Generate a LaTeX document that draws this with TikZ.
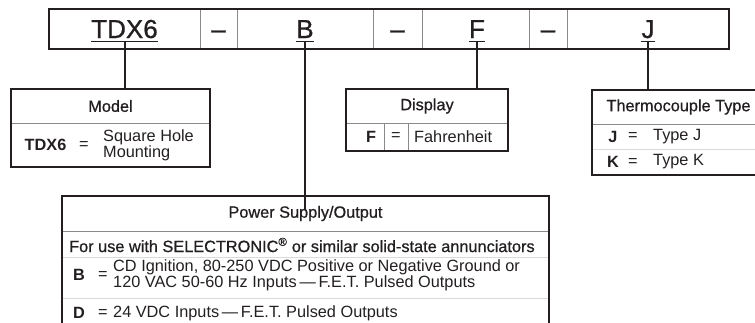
\documentclass[tikz,border=0pt]{standalone}
\usepackage{fontspec}
\setmainfont{Liberation Sans}
\newfontfamily\medfont[FakeBold=0.8]{Liberation Sans}
\usetikzlibrary{positioning,calc}
\definecolor{encre}{HTML}{231F20}
\definecolor{grisT}{HTML}{8A8A8A}
\definecolor{grisP}{HTML}{DADADA}
\tikzset{
  cadre/.style={draw=encre, line width=2pt},
  filet/.style={draw=grisT, line width=0.8pt},
  pale/.style={draw=grisP, line width=0.6pt},
  lien/.style={draw=encre, line width=2pt},
  code/.style={font=\fontsize{26}{26}\selectfont\medfont, text=encre, inner sep=0pt, anchor=base},
  zone/.style={rectangle, inner sep=0pt, font=\fontsize{16.3}{17}\selectfont\medfont, text=encre},
  txt/.style={font=\fontsize{16.3}{14}\selectfont, text=encre, inner sep=0pt, align=left},
  lettre/.style={font=\fontsize{16.3}{17}\selectfont\bfseries, text=encre, inner sep=0pt},
}

\begin{document}
\begin{tikzpicture}[x=1pt,y=-1pt]
  \clip (0,0) rectangle (755,322);
  % bandeau du code
  \foreach \xs in {200,237,373,422,529,567}
    \draw[filet] (\xs,9) -- (\xs,49);
  \draw[cadre] (49,9) rectangle (729,49);
  \node[code] (cM) at (124.5,38) {TDX6};
  \node[code] (t1) at (218.5,38) {–};
  \node[code] (cB) at (305,38) {B};
  \node[code] (t2) at (397.5,38) {–};
  \node[code] (cF) at (477,38) {F};
  \node[code] (t3) at (548,38) {–};
  \node[code] (cJ) at (648,38) {J};
  \foreach \n in {cM,cB,cF,cJ}
    \draw[encre, line width=1.6pt] ([yshift=-3.5pt]\n.base west) -- ([yshift=-3.5pt]\n.base east);
  \coordinate (uM) at ([yshift=-3.5pt]cM.base);
  \coordinate (uB) at ([yshift=-3.5pt]cB.base);
  \coordinate (uF) at ([yshift=-3.5pt]cF.base);
  \coordinate (uJ) at ([yshift=-3.5pt]cJ.base);

  % Model
  \node[zone, minimum width=199pt, minimum height=34pt] (tMod) at (110.5,106) {Model};
  \node[zone, minimum width=199pt, minimum height=43pt, below=0pt of tMod] (zMod) {};
  \draw[filet] (tMod.south west) -- (tMod.south east);
  \draw[cadre] (tMod.north west) rectangle (zMod.south east);
  \node[lettre] (kM) at (45.5,145) {TDX6};
  \node[txt] (eM) at (84,145) {=};
  \node[txt, anchor=west] (vM) at (103,145) {Square Hole\\Mounting};

  % Display
  \node[zone, minimum width=162pt, minimum height=34pt] (tDisp) at (427,106) {Display};
  \node[zone, minimum width=162pt, minimum height=27pt, below=0pt of tDisp] (zDisp) {};
  \draw[filet] (tDisp.south west) -- (tDisp.south east);
  \draw[filet] (384,123) -- (384,150);
  \draw[filet] (408,123) -- (408,150);
  \draw[cadre] (tDisp.north west) rectangle (zDisp.south east);
  \node[lettre] (kF) at (371,137) {F};
  \node[txt] (eF) at (396,137) {=};
  \node[txt, anchor=west] (vF) at (414,137) {Fahrenheit};

  % Thermocouple Type
  \node[zone, minimum width=173pt, minimum height=34pt] (tTc) at (678.5,107) {Thermocouple Type};
  \node[zone, minimum width=173pt, minimum height=50pt, below=0pt of tTc] (zTc) {};
  \draw[pale] (592,149) -- (765,149);
  \draw[filet] (tTc.south west) -- (tTc.south east);
  \draw[cadre] (tTc.north west) rectangle (zTc.south east);
  \node[lettre] (kJ) at (613,137) {J};
  \node[txt] (eJ) at (633,137) {=};
  \node[txt, anchor=west] (vJ) at (653,137) {Type J};
  \node[lettre] (kK) at (613,162) {K};
  \node[txt] (eK) at (633,162) {=};
  \node[txt, anchor=west] (vK) at (653,162) {Type K};

  % Power Supply/Output
  \node[zone, minimum width=487pt, minimum height=35pt] (tPow) at (305.5,213.5) {Power Supply/Output};
  \node[zone, minimum width=487pt, minimum height=110pt, below=0pt of tPow] (zPow) {};
  \draw[pale] (62,257) -- (549,257);
  \draw[pale] (62,298) -- (549,298);
  \draw[filet] (tPow.south west) -- (tPow.south east);
  \draw[cadre] (tPow.north west) rectangle (zPow.south east);
  \node[zone, anchor=west] (sPow) at (69,245) {For use with SELECTRONIC\textsuperscript{®} or similar solid-state annunciators};
  \node[lettre] (kB) at (79,275) {B};
  \node[txt] (eB) at (103,275) {=};
  \node[txt, anchor=west] (vB) at (113,275) {CD Ignition, 80-250 VDC Positive or Negative Ground or\\120 VAC 50-60 Hz Inputs\,—\,F.E.T. Pulsed Outputs};
  \node[lettre] (kD) at (79,313) {D};
  \node[txt] (eD) at (103,313) {=};
  \node[txt, anchor=west] (vD) at (113,313) {24 VDC Inputs\,—\,F.E.T. Pulsed Outputs};

  % liaisons
  \draw[lien] (uM) -- (uM |- tMod.north);
  \draw[lien] (uB) -- ($(uB |- tPow.north)+(0,14)$);
  \draw[lien] (uF) -- (uF |- tDisp.north);
  \draw[lien] (uJ) -- (uJ |- tTc.north);
\end{tikzpicture}
\end{document}
